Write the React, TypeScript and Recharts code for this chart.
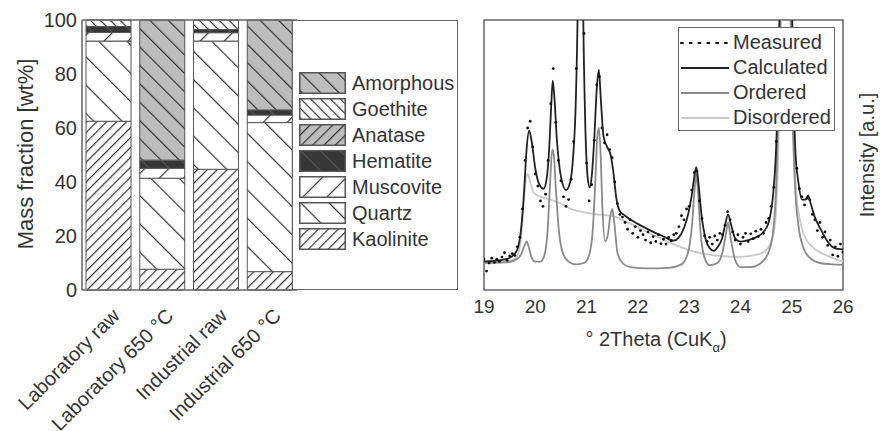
import { BarChart, Bar, XAxis, YAxis, ComposedChart, Line, Scatter, Legend, ReferenceLine, ReferenceArea, Label } from 'recharts';

const font = '"Liberation Sans", Arial, sans-serif';
const ink = '#333';
const frame = '#666';

// ---- left panel: phase composition ----
const categories = ['Laboratory raw', 'Laboratory 650 °C', 'Industrial raw', 'Industrial 650 °C'];
const kaolinite = [62.5, 7.7, 44.7, 6.8];
const quartz = [29.7, 33.7, 47.5, 55.2];
const muscovite = [3.2, 3.7, 3.1, 2.8];
const hematite = [2.2, 3.0, 1.2, 1.9];
const anatase = [0, 0, 0, 0];
const goethite = [2.4, 0, 3.5, 0];
const amorphous = [0, 51.9, 0, 33.3];
const massTicks = [0, 20, 40, 60, 80, 100];

// ---- right panel: XRD pattern (2theta, intensity) ----
const measured: [number, number][] = [
  [19.0, 11.5], [19.05, 7.0], [19.1, 10.0], [19.15, 11.8], [19.2, 10.2], [19.25, 11.4], [19.3, 10.6], [19.35, 12.2],
  [19.4, 13.8], [19.45, 11.0], [19.5, 12.6], [19.55, 13.5], [19.6, 12.8], [19.65, 16.0], [19.7, 19.5], [19.75, 30.0],
  [19.8, 48.0], [19.85, 60.0], [19.9, 62.5], [19.95, 53.0], [20.0, 43.0], [20.05, 38.5], [20.1, 33.0], [20.15, 31.0],
  [20.2, 35.5], [20.25, 48.0], [20.3, 69.0], [20.35, 82.0], [20.4, 62.0], [20.45, 48.0], [20.5, 40.5], [20.55, 34.5],
  [20.6, 31.0], [20.65, 33.5], [20.7, 41.0], [20.75, 55.0], [20.8, 82.0], [20.95, 95.0], [21.0, 47.0], [21.05, 33.0],
  [21.1, 39.0], [21.15, 55.5], [21.2, 76.0], [21.25, 79.0], [21.3, 60.0], [21.35, 54.5], [21.4, 57.5], [21.45, 52.0],
  [21.5, 49.0], [21.55, 40.0], [21.6, 32.0], [21.65, 28.0], [21.7, 27.0], [21.75, 25.0], [21.8, 22.5], [21.85, 26.0],
  [21.9, 21.0], [21.95, 23.5], [22.0, 19.5], [22.05, 22.0], [22.1, 20.5], [22.15, 18.5], [22.2, 21.5], [22.25, 17.5],
  [22.3, 19.8], [22.35, 18.0], [22.4, 20.5], [22.45, 17.2], [22.5, 18.8], [22.55, 17.0], [22.6, 19.5], [22.65, 18.2],
  [22.7, 20.5], [22.75, 21.0], [22.8, 23.5], [22.85, 27.5], [22.9, 26.0], [22.95, 30.0], [23.0, 31.0], [23.05, 37.0],
  [23.1, 43.5], [23.15, 44.0], [23.2, 33.0], [23.25, 26.5], [23.3, 20.0], [23.35, 18.0], [23.4, 19.5], [23.45, 17.0],
  [23.5, 20.0], [23.55, 18.5], [23.6, 21.0], [23.65, 20.5], [23.7, 24.0], [23.75, 29.0], [23.8, 26.0], [23.85, 21.5],
  [23.9, 18.5], [23.95, 20.5], [24.0, 17.0], [24.05, 19.5], [24.1, 21.0], [24.15, 18.0], [24.2, 20.8], [24.25, 19.0],
  [24.3, 21.8], [24.35, 19.8], [24.4, 22.5], [24.45, 21.0], [24.5, 25.0], [24.55, 26.5], [24.6, 31.0], [24.65, 38.0],
  [24.7, 55.0], [24.75, 88.0], [25.05, 62.0], [25.1, 45.0], [25.15, 37.5], [25.2, 34.5], [25.25, 31.5], [25.3, 34.0],
  [25.35, 33.5], [25.4, 28.0], [25.45, 26.0], [25.5, 22.0], [25.55, 25.0], [25.6, 19.5], [25.65, 21.5], [25.7, 16.5],
  [25.75, 18.5], [25.8, 13.0], [25.85, 16.0], [25.9, 12.5], [25.95, 17.0], [26.0, 14.0],
];

const calculated: [number, number][] = [
  [19.0, 10.6], [19.2, 10.8], [19.4, 11.3], [19.55, 12.5], [19.65, 15], [19.72, 22], [19.78, 36], [19.83, 52],
  [19.88, 59], [19.93, 55], [20.0, 45], [20.08, 39], [20.16, 37.5], [20.22, 41], [20.27, 52], [20.31, 68],
  [20.34, 77.5], [20.37, 72], [20.42, 56], [20.5, 42], [20.6, 37], [20.68, 40], [20.74, 50], [20.79, 70],
  [20.83, 110], [20.88, 250], [20.93, 110], [20.97, 65], [21.02, 42], [21.06, 38], [21.1, 42], [21.15, 56],
  [21.2, 75], [21.24, 81.5], [21.28, 70], [21.33, 57], [21.4, 53], [21.47, 50], [21.52, 44], [21.58, 34],
  [21.64, 29.5], [21.75, 27.5], [22.0, 24.5], [22.25, 22], [22.5, 19.8], [22.7, 18.3], [22.8, 19.5], [22.9, 23],
  [22.98, 28], [23.05, 35], [23.1, 42], [23.14, 45.5], [23.18, 40], [23.24, 28], [23.32, 19], [23.4, 15.5],
  [23.48, 14.5], [23.56, 16], [23.64, 19], [23.7, 24], [23.76, 28], [23.82, 24], [23.9, 19], [24.0, 17.9],
  [24.15, 18.5], [24.3, 19.5], [24.45, 21.5], [24.55, 25], [24.63, 34], [24.69, 50], [24.74, 80], [24.78, 120],
  [24.88, 200], [24.98, 130], [25.03, 80], [25.07, 52], [25.13, 40], [25.2, 33.5], [25.27, 33.5], [25.32, 35],
  [25.37, 32], [25.45, 27], [25.55, 23], [25.68, 18.5], [25.8, 15.8], [25.9, 15.2], [26.0, 15],
];

const ordered: [number, number][] = [
  [19.0, 10], [19.4, 10.2], [19.6, 11], [19.72, 13], [19.79, 16.5], [19.83, 18], [19.87, 16], [19.93, 12],
  [20.0, 10.5], [20.1, 10.5], [20.18, 13], [20.24, 22], [20.29, 40], [20.33, 52], [20.36, 50], [20.4, 38],
  [20.46, 22], [20.55, 13], [20.65, 10.5], [20.8, 9.5], [20.95, 10], [21.05, 13], [21.12, 22], [21.17, 40],
  [21.21, 57], [21.24, 60], [21.27, 52], [21.31, 30], [21.36, 18], [21.41, 20], [21.46, 27], [21.5, 30],
  [21.54, 25], [21.6, 14], [21.7, 10], [21.85, 8.5], [22.2, 8], [22.6, 8.2], [22.85, 9.5], [22.98, 14],
  [23.06, 25], [23.11, 38], [23.14, 43], [23.17, 37], [23.22, 22], [23.3, 12], [23.4, 9.2], [23.55, 10],
  [23.65, 14], [23.71, 20], [23.76, 25], [23.81, 19], [23.9, 11], [24.0, 8.5], [24.2, 8.5], [24.4, 10],
  [24.55, 14], [24.64, 22], [24.7, 40], [24.75, 75], [24.8, 120], [24.88, 190], [24.96, 120], [25.01, 70],
  [25.06, 40], [25.13, 24], [25.22, 16], [25.35, 12], [25.55, 10], [25.8, 9.5], [26.0, 9.3],
];

const disordered: [number, number][] = [
  [19.0, 10.3], [19.4, 10.5], [19.6, 11.5], [19.7, 16], [19.76, 28], [19.81, 40], [19.85, 43], [19.9, 40],
  [19.97, 36], [20.1, 34.5], [20.3, 33.5], [20.5, 32], [20.7, 30], [20.9, 29], [21.1, 28.3], [21.3, 27.8],
  [21.55, 27.2], [21.75, 25.5], [22.0, 23.2], [22.25, 20.8], [22.5, 18.6], [22.75, 16.5], [23.0, 14.8], [23.25, 13.6],
  [23.5, 12.8], [23.75, 12.4], [24.0, 12.3], [24.25, 12.8], [24.45, 14], [24.58, 17], [24.67, 24], [24.73, 45],
  [24.78, 90], [24.88, 180], [24.98, 100], [25.03, 60], [25.08, 38], [25.15, 27], [25.25, 20], [25.4, 16],
  [25.6, 13.5], [25.8, 11.8], [26.0, 10.6],
];
const thetaTicks = [19, 20, 21, 22, 23, 24, 25, 26];

const toPts = (arr: [number, number][]) => arr.map(([x, y]) => ({ x, y }));

const minerals = [
  { key: 'kaolinite', name: 'Kaolinite', values: kaolinite, bg: '#fff', line: '#333', gap: 7, dir: 45 },
  { key: 'quartz', name: 'Quartz', values: quartz, bg: '#fff', line: '#333', gap: 20, dir: -45 },
  { key: 'muscovite', name: 'Muscovite', values: muscovite, bg: '#fff', line: '#333', gap: 17, dir: 45 },
  { key: 'hematite', name: 'Hematite', values: hematite, bg: '#363636', line: '#555', gap: 14, dir: -45 },
  { key: 'anatase', name: 'Anatase', values: anatase, bg: '#bdbdbd', line: '#333', gap: 8, dir: 45 },
  { key: 'goethite', name: 'Goethite', values: goethite, bg: '#fff', line: '#333', gap: 7, dir: -45 },
  { key: 'amorphous', name: 'Amorphous', values: amorphous, bg: '#bdbdbd', line: '#333', gap: 13, dir: -45 },
];

const barData = categories.map((name, i) => {
  const row: Record<string, string | number> = { name };
  minerals.forEach((m) => (row[m.key] = m.values[i]));
  return row;
});

const CategoryTick = (props: any) => {
  const { x, y, payload } = props;
  const ax = x + 12;
  const ay = y + 25;
  return (
    <text x={ax} y={ay} textAnchor="end" fontSize={20} fill={ink} fontFamily={font} transform={`rotate(-45 ${ax} ${ay})`}>
      {payload.value}
    </text>
  );
};

const MineralLegend = () => (
  <div style={{ width: 166, height: 270, boxSizing: 'border-box', border: `1.5px solid ${frame}`, background: '#fff', paddingTop: 49, paddingLeft: 6 }}>
    {[...minerals].reverse().map((m) => (
      <div key={m.key} style={{ display: 'flex', alignItems: 'center', height: 26 }}>
        <svg width={47} height={22} style={{ display: 'block' }}>
          <rect x={0.75} y={0.75} width={45.5} height={20.5} fill={`url(#pat-${m.key})`} stroke="#555" strokeWidth={1.5} />
        </svg>
        <span style={{ marginLeft: 6, fontSize: 20, color: ink, fontFamily: font, lineHeight: '26px' }}>{m.name}</span>
      </div>
    ))}
  </div>
);

const series = [
  { name: 'Measured', color: '#111', dash: '1.8 7' },
  { name: 'Calculated', color: '#222', dash: undefined },
  { name: 'Ordered', color: '#8a8a8a', dash: undefined },
  { name: 'Disordered', color: '#c9c9c9', dash: undefined },
];

const XrdLegend = () => (
  <div style={{ width: 157, height: 104, boxSizing: 'border-box', border: `1.5px solid ${frame}`, background: '#fff', paddingTop: 2 }}>
    {series.map((s) => (
      <div key={s.name} style={{ display: 'flex', alignItems: 'center', height: 25 }}>
        <svg width={50} height={10} style={{ display: 'block' }}>
          <line x1={2} y1={5} x2={50} y2={5} stroke={s.color} strokeWidth={s.dash ? 2.2 : 2} strokeDasharray={s.dash} strokeLinecap={s.dash ? 'round' : 'butt'} />
        </svg>
        <span style={{ marginLeft: 4, fontSize: 20, color: ink, fontFamily: font, lineHeight: '25px' }}>{s.name}</span>
      </div>
    ))}
  </div>
);

function MassChart() {
  return (
    <BarChart width={470} height={431} data={barData} margin={{ top: 20, right: 173, bottom: 111, left: 37 }} barSize={45}>
      <defs>
        {minerals.map((m) => (
          <pattern key={m.key} id={`pat-${m.key}`} patternUnits="userSpaceOnUse" width={m.gap} height={m.gap} patternTransform={`rotate(${m.dir})`}>
            <rect width={m.gap} height={m.gap} fill={m.bg} />
            <line x1={0} y1={0} x2={0} y2={m.gap} stroke={m.line} strokeWidth={2.4} />
          </pattern>
        ))}
      </defs>
      <XAxis dataKey="name" height={30} interval={0} tickLine={false} tickSize={0} tick={<CategoryTick />} axisLine={{ stroke: frame, strokeWidth: 1.5 }} />
      <YAxis
        domain={[0, 100]}
        ticks={massTicks}
        width={45}
        tickLine={false}
        tickSize={3}
        tickMargin={2}
        axisLine={{ stroke: frame, strokeWidth: 1.5 }}
        tick={{ fontSize: 20, fill: ink, fontFamily: font }}
      >
        <Label
          content={() => (
            <text x={33} y={154} transform="rotate(-90 33 154)" textAnchor="middle" fontSize={22} fill={ink} fontFamily={font}>
              Mass fraction [wt%]
            </text>
          )}
        />
      </YAxis>
      <ReferenceLine y={100} stroke={frame} strokeWidth={1.5} />
      {minerals.map((m) => (
        <Bar key={m.key} dataKey={m.key} stackId="a" fill={`url(#pat-${m.key})`} stroke="#555" strokeWidth={1} isAnimationActive={false} />
      ))}
      <Legend
        layout="horizontal"
        align="center"
        verticalAlign="middle"
        width={166}
        height={270}
        wrapperStyle={{ left: 292, top: 20, width: 166, height: 270 }}
        content={() => <MineralLegend />}
      />
    </BarChart>
  );
}

function XrdChart() {
  return (
    <ComposedChart width={410} height={431} margin={{ top: 20, right: 37, bottom: 111, left: 14 }}>
      <XAxis
        dataKey="x"
        type="number"
        domain={[19, 26]}
        ticks={thetaTicks}
        allowDataOverflow
        height={30}
        tickLine={false}
        tickSize={5}
        tickMargin={5}
        axisLine={false}
        tick={{ fontSize: 19, fill: ink, fontFamily: font }}
      >
        <Label
          content={() => (
            <text x={186} y={346} textAnchor="middle" fontSize={20} fill={ink} fontFamily={font}>
              ° 2Theta (CuK
              <tspan fontSize={13} dy={6}>α</tspan>
              <tspan dy={-6}>)</tspan>
            </text>
          )}
        />
      </XAxis>
      <YAxis type="number" domain={[0, 100]} allowDataOverflow hide />
      <ReferenceArea x1={19} x2={26} y1={0} y2={100} fill="#fff" fillOpacity={0} stroke={frame} strokeWidth={1.5} />
      <Line data={toPts(disordered)} dataKey="y" type="monotone" stroke="#c9c9c9" strokeWidth={1.8} dot={false} isAnimationActive={false} />
      <Line data={toPts(ordered)} dataKey="y" type="monotone" stroke="#8a8a8a" strokeWidth={1.8} dot={false} isAnimationActive={false} />
      <Line data={toPts(calculated)} dataKey="y" type="monotone" stroke="#222" strokeWidth={1.8} dot={false} isAnimationActive={false} />
      <Scatter
        data={toPts(measured)}
        dataKey="y"
        isAnimationActive={false}
        shape={(p: any) => <circle cx={p.cx} cy={p.cy} r={1.4} fill="#111" />}
      />
      <Legend
        layout="horizontal"
        align="center"
        verticalAlign="middle"
        width={157}
        height={104}
        wrapperStyle={{ left: 208, top: 27, width: 157, height: 104 }}
        content={() => <XrdLegend />}
      />
      <text x={404} y={155} transform="rotate(-90 404 155)" textAnchor="middle" fontSize={20} fill={ink} fontFamily={font}>
        Intensity [a.u.]
      </text>
    </ComposedChart>
  );
}

export default function App() {
  return (
    <div style={{ position: 'fixed', left: 0, top: 0, width: 880, height: 431, background: '#fff', fontFamily: font }}>
      <div style={{ position: 'absolute', left: 0, top: 0 }}>
        <MassChart />
      </div>
      <div style={{ position: 'absolute', left: 470, top: 0 }}>
        <XrdChart />
      </div>
    </div>
  );
}
